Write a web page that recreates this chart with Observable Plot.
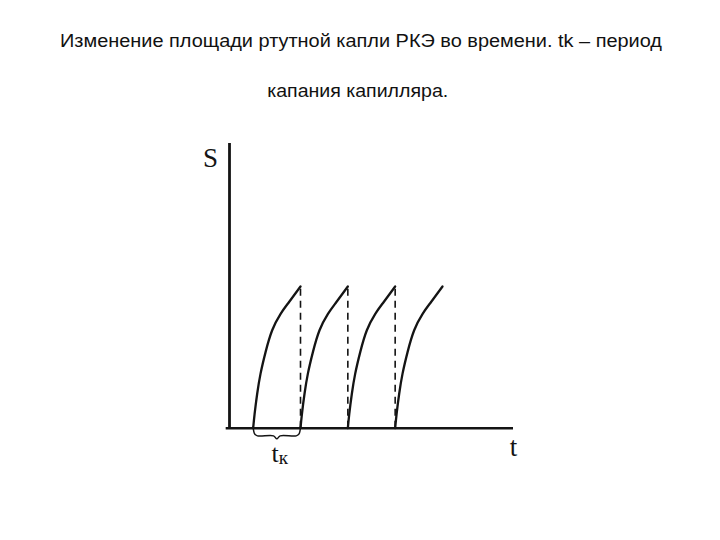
<!DOCTYPE html>
<html>
<head>
<meta charset="utf-8">
<script src="https://cdn.jsdelivr.net/npm/d3@7"></script>
<script src="https://cdn.jsdelivr.net/npm/@observablehq/plot@0.6"></script>
<style>
  html, body { margin: 0; padding: 0; background: #fff; }
  #wrap { width: 720px; height: 540px; overflow: hidden; }
  #title svg, #chart svg { display: block; }
</style>
</head>
<body>
<div id="wrap">
  <div id="title"></div>
  <div id="chart"></div>
</div>
<script>
// ---- data ----
const titleLines = [
  "Изменение площади ртутной капли РКЭ во времени. tk – период",
  "капания капилляра."
];
// shape of one drop growth (fraction of period, fraction of max area)
const growthTau = [0, 0.030, 0.085, 0.156, 0.262, 0.402, 0.58, 0.755, 1];
const growthS   = [0, 0.10, 0.243, 0.385, 0.537, 0.691, 0.807, 0.889, 1];
// moments when a new drop starts growing (in units of tk)
const dropStarts = [0.5, 1.5, 2.5, 3.5];
// moments of drop detachment (dashed drops)
const dropFalls = [1.5, 2.5, 3.5];
const period = 1;     // tk
const sMax = 1;       // area at detachment
const axisLabelS = "S";
const axisLabelT = "t";
const periodLabelMain = "t";
const periodLabelSub = "к";

// ---- title ----
const W = 720, titleH = 110;
const tsvg = d3.select("#title").append("svg").attr("width", W).attr("height", titleH);
const titleSpecs = [
  {text: titleLines[0], cx: 361, base: 46.7, len: 602},
  {text: titleLines[1], cx: 357.7, base: 96.7, len: 181}
];
titleSpecs.forEach(d => {
  tsvg.append("text")
    .attr("x", d.cx - d.len / 2).attr("y", d.base)
    .attr("textLength", d.len).attr("lengthAdjust", "spacingAndGlyphs")
    .attr("font-family", "'Liberation Sans', Arial, sans-serif")
    .attr("font-size", 17.5).attr("fill", "#111")
    .text(d.text);
});

// ---- build tables ----
const curves = [];
dropStarts.forEach((t0, k) => {
  growthTau.forEach((tau, i) => {
    curves.push({drop: k, t: t0 + tau * period, s: growthS[i] * sMax});
  });
});
const falls = dropFalls.map(t => ({t, s0: 0, s1: sMax}));

// brace under the first period (relative shape)
const b0 = dropStarts[0], b1 = dropStarts[0] + period, bm = (b0 + b1) / 2;
const braceRel = [[0, 0.01], [0.03, -0.04], [0.09, -0.054], [0.43, -0.054], [0.5, -0.075],
                  [0.57, -0.054], [0.91, -0.054], [0.97, -0.04], [1, 0.01]];
const brace = braceRel.map(([f, s]) => ({t: b0 + f * period, s}));

const ink = "#141414";
const serif = "'Liberation Serif', 'Times New Roman', serif";

const chart = Plot.plot({
  width: W,
  height: 540 - titleH,
  marginLeft: 229,
  marginRight: 207,
  marginTop: 34.3,
  marginBottom: 112.3,
  x: {domain: [0, 6], axis: null},
  y: {domain: [0, 2], axis: null},
  marks: [
    Plot.ruleX([0], {y1: 0, y2: 2.01, stroke: ink, strokeWidth: 2.8}),
    Plot.ruleY([0], {x1: -0.07, x2: 6, stroke: ink, strokeWidth: 2.6}),
    Plot.ruleX(falls, {x: "t", y1: "s0", y2: "s1", stroke: ink, strokeWidth: 1.6, strokeDasharray: "7,5"}),
    Plot.line(curves, {x: "t", y: "s", z: "drop", curve: "natural", stroke: ink, strokeWidth: 2.3, strokeLinecap: "round", strokeLinejoin: "round"}),
    Plot.line(brace, {x: "t", y: "s", curve: "catmull-rom", stroke: ink, strokeWidth: 1.5}),
    Plot.text([axisLabelS], {x: -0.4, y: 1.84, text: d => d, fontSize: 27, fontFamily: serif, fill: ink, textAnchor: "middle", lineAnchor: "bottom"}),
    Plot.text([axisLabelT], {x: 6.0, y: -0.193, text: d => d, fontSize: 27, fontFamily: serif, fill: ink, textAnchor: "middle", lineAnchor: "bottom"}),
    Plot.text([periodLabelMain], {x: bm + 0.04, y: -0.242, text: d => d, fontSize: 26, fontFamily: serif, fill: ink, textAnchor: "end", lineAnchor: "bottom"}),
    Plot.text([periodLabelSub], {x: bm + 0.04, y: -0.252, text: d => d, fontSize: 19, fontFamily: serif, fill: ink, textAnchor: "start", lineAnchor: "bottom"})
  ]
});
document.getElementById("chart").appendChild(chart);
</script>
</body>
</html>
